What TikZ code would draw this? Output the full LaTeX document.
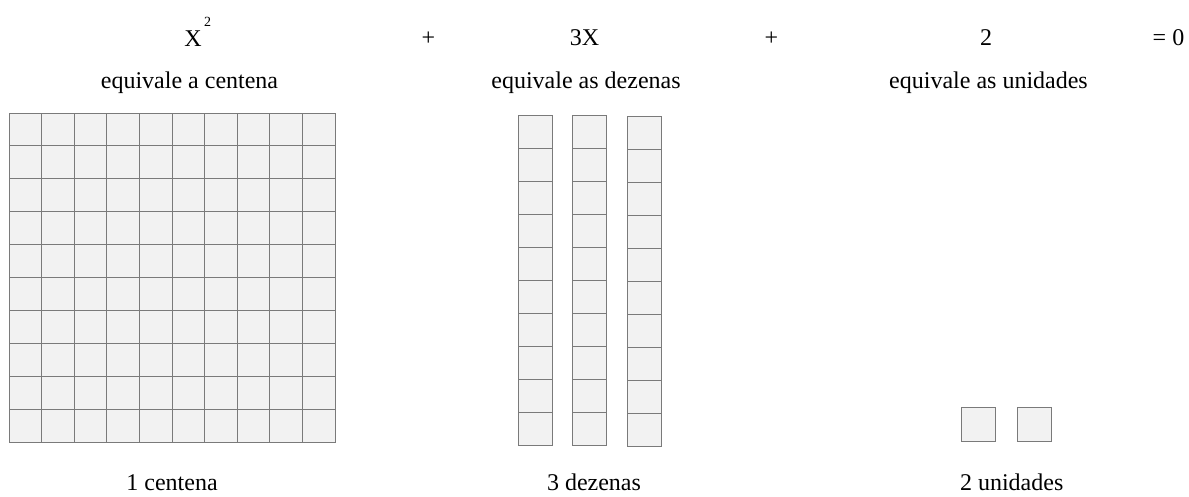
\documentclass[tikz,border=0pt]{standalone}
\usepackage{fontspec}
\setmainfont{Liberation Serif}
\definecolor{cellfill}{HTML}{F2F2F2}
\definecolor{cellline}{HTML}{7A7A7A}
\begin{document}
\begin{tikzpicture}[x=1pt,y=-1pt,
  cell/.style={fill=cellfill, draw=cellline, line width=0.9pt},
  lbl/.style={anchor=base, inner sep=0pt, font=\fontsize{24}{28}\selectfont},
  suplbl/.style={anchor=base, inner sep=0pt, font=\fontsize{14}{16}\selectfont}]
\useasboundingbox (0,0) rectangle (1189,496);
% hundred grid
\foreach \i in {0,...,9}
  \foreach \j in {0,...,9}
    \draw[cell] ({9+\i*32.6},{113+\j*32.9}) rectangle ++(32.6,32.9);
% three tens
\foreach \x/\y in {518.3/115.7, 572.3/115.7, 627.3/116.7}
  \foreach \j in {0,...,9}
    \draw[cell] (\x,{\y+\j*32.93}) rectangle ++(34,32.93);
% two units
\draw[cell] (961.7,407.3) rectangle ++(33.6,34.4);
\draw[cell] (1017.7,407.3) rectangle ++(33.6,34.4);
% top row
\node[lbl] (xsq) at (193,46) {X};
\node[suplbl] (sup) at (207.5,26) {2};
\node[lbl] (p1) at (428.5,45) {+};
\node[lbl] (tx) at (584.5,45) {3X};
\node[lbl] (p2) at (771.5,45) {+};
\node[lbl] (two) at (986,45) {2};
\node[lbl] (eq) at (1168.5,45) {= 0};
% second row
\node[lbl] (e1) at (189.5,88) {equivale a centena};
\node[lbl] (e2) at (586,88) {equivale as dezenas};
\node[lbl] (e3) at (988.5,88) {equivale as unidades};
% bottom row
\node[lbl] (b1) at (172,490) {1 centena};
\node[lbl] (b2) at (594,490) {3 dezenas};
\node[lbl] (b3) at (1011.7,490) {2 unidades};
\end{tikzpicture}
\end{document}
